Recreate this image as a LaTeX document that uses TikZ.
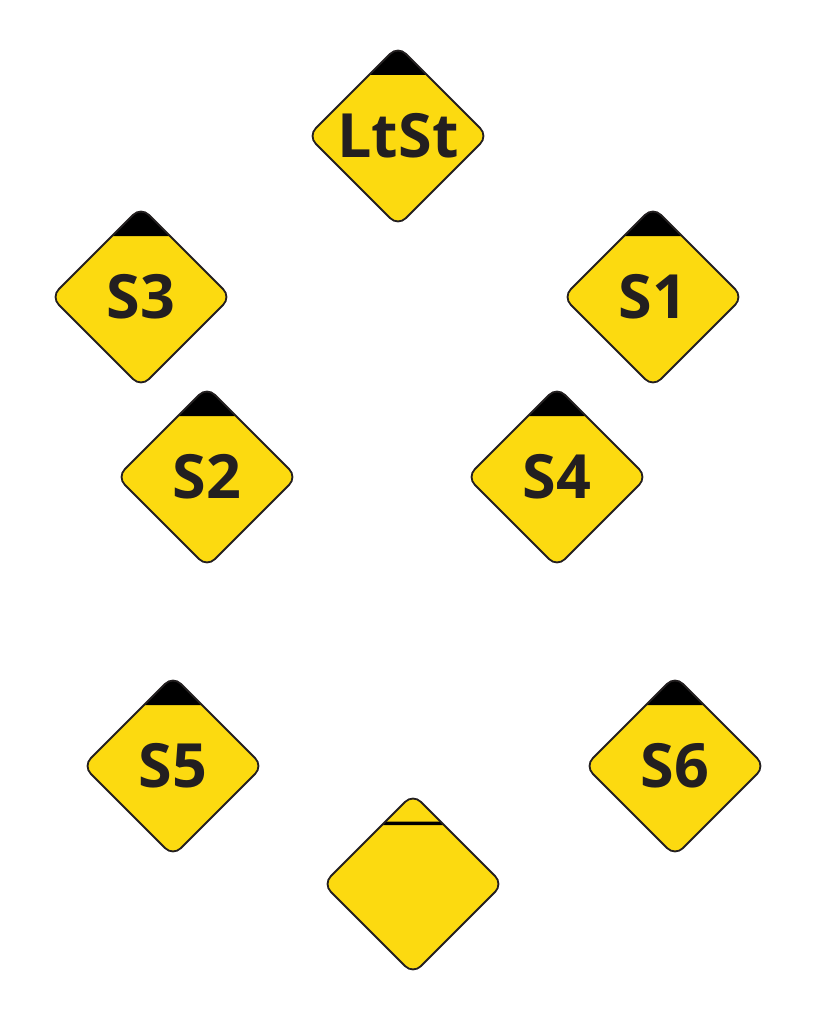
\documentclass[tikz,border=0pt]{standalone}
\usepackage{fontspec}
\setmainfont{Open Sans}
\usetikzlibrary{shapes.geometric}
\definecolor{signyellow}{RGB}{252,218,16}
\definecolor{signink}{RGB}{35,31,32}
\tikzset{
  signbase/.style={diamond, aspect=1, minimum width=180pt, minimum height=180pt,
    inner sep=0pt, outer sep=0pt, rounded corners=11pt, fill=signyellow,
    draw=signink, line width=1.8pt, text=signink,
    font=\fontsize{61}{61}\selectfont\bfseries},
  capped/.style={signbase, path picture={
    \fill[black] ([shift={(-100pt,61pt)}]path picture bounding box.center)
      rectangle ([shift={(100pt,120pt)}]path picture bounding box.center);}},
  striped/.style={signbase, path picture={
    \fill[black] ([shift={(-100pt,59pt)}]path picture bounding box.center)
      rectangle ([shift={(100pt,62.5pt)}]path picture bounding box.center);}}
}
\begin{document}
\begin{tikzpicture}[x=1pt,y=-1pt]
\useasboundingbox (0,0) rectangle (819,1024);
\node[capped] (ltst) at (398,136) {LtSt};
\node[capped] (s3) at (141,297) {S3};
\node[capped] (s1) at (653,297) {S1};
\node[capped] (s2) at (207,477) {S2};
\node[capped] (s4) at (557,477) {S4};
\node[capped] (s5) at (173,766) {S5};
\node[capped] (s6) at (675,766) {S6};
\node[striped] (blank) at (413,884) {};
\end{tikzpicture}
\end{document}
